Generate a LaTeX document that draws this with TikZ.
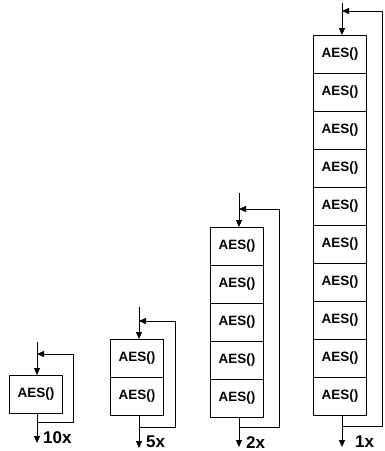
\documentclass[tikz,border=0pt]{standalone}
\usepackage{fontspec}
\setmainfont{Liberation Sans}
\usetikzlibrary{arrows.meta}
\begin{document}
\begin{tikzpicture}[x=1pt,y=-1pt,
  cell/.style={draw, line width=0.8pt, minimum width=53pt, minimum height=38pt,
    inner sep=0pt, anchor=north west, font=\fontsize{13.5}{14}\selectfont\bfseries},
  wire/.style={line width=0.8pt},
  tip/.style={-{Triangle[length=7pt,width=6pt]}},
  count/.style={anchor=base west, inner sep=0pt, font=\fontsize{17}{17}\selectfont\bfseries}]
\useasboundingbox (0,0) rectangle (385,451);

% column 1: one round per pass, ten passes
\node[cell] (c1-1) at (9,375) {AES()};
\coordinate (in1) at (37,342);
\coordinate (fb1) at (37,354);
\coordinate (lp1) at (73,422);
\coordinate (end1) at (37,443);
\draw[wire,tip] (in1) -- (in1 |- c1-1.north);
\draw[wire,tip] (end1 |- c1-1.south) -- (end1);
\draw[wire,tip] (fb1 |- lp1) -- (lp1) |- (fb1);
\node[count] (n1) at (43,443) {10x};

% column 2: two rounds per pass, five passes
\foreach \i in {1,2} {
  \node[cell] (c2-\i) at (110,{339+(\i-1)*38}) {AES()};
}
\coordinate (in2) at (139,307);
\coordinate (fb2) at (139,321);
\coordinate (lp2) at (175,427);
\coordinate (end2) at (139,448);
\draw[wire,tip] (in2) -- (in2 |- c2-1.north);
\draw[wire,tip] (end2 |- c2-2.south) -- (end2);
\draw[wire,tip] (fb2 |- lp2) -- (lp2) |- (fb2);
\node[count] (n2) at (146,447) {5x};

% column 3: five rounds per pass, two passes
\foreach \i in {1,...,5} {
  \node[cell] (c3-\i) at (210,{227+(\i-1)*38}) {AES()};
}
\coordinate (in3) at (239,193);
\coordinate (fb3) at (239,209);
\coordinate (lp3) at (279,427);
\coordinate (end3) at (239,447);
\draw[wire,tip] (in3) -- (in3 |- c3-1.north);
\draw[wire,tip] (end3 |- c3-5.south) -- (end3);
\draw[wire,tip] (fb3 |- lp3) -- (lp3) |- (fb3);
\node[count] (n3) at (246,448) {2x};

% column 4: fully unrolled, ten rounds, one pass
\foreach \i in {1,...,10} {
  \node[cell] (c4-\i) at (313,{35+(\i-1)*38}) {AES()};
}
\coordinate (in4) at (342,3);
\coordinate (fb4) at (342,11);
\coordinate (lp4) at (382,426);
\coordinate (end4) at (342,447);
\draw[wire,tip] (in4) -- (in4 |- c4-1.north);
\draw[wire,tip] (end4 |- c4-10.south) -- (end4);
\draw[wire,tip] (fb4 |- lp4) -- (lp4) |- (fb4);
\node[count] (n4) at (355,447) {1x};
\end{tikzpicture}
\end{document}
